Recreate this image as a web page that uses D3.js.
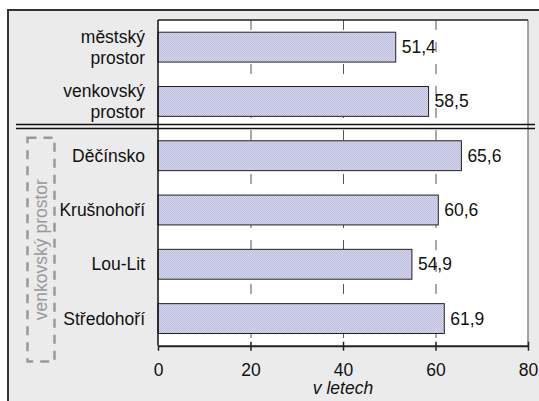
<!DOCTYPE html>
<html><head><meta charset="utf-8">
<script src="https://cdn.jsdelivr.net/npm/d3@7/dist/d3.min.js"></script>
<style>
html,body{margin:0;padding:0;background:#fff;}
svg{display:block;font-family:"Liberation Sans",Arial,sans-serif;}
</style></head>
<body>
<svg id="chart" width="539" height="401"></svg>
<script>
const categories = [["městský","prostor"],["venkovský","prostor"],["Děčínsko"],["Krušnohoří"],["Lou-Lit"],["Středohoří"]];
const values = [51.4, 58.5, 65.6, 60.6, 54.9, 61.9];
const valueLabels = ["51,4","58,5","65,6","60,6","54,9","61,9"];
const xTicks = [0, 20, 40, 60, 80];
const xTitle = "v letech";
const groupLabel = "venkovský prostor";

const FS = 17.5;
const svg = d3.select("#chart");
const W = 539, H = 401;
const m = {left:158, right:528, top:20, bottom:345.7};

// outer frame
svg.append("rect").attr("x",8).attr("y",10).attr("width",W).attr("height",H)
  .attr("fill","#ebebeb").attr("stroke","#333").attr("stroke-width",2);

const defs = svg.append("defs");
const pat = defs.append("pattern").attr("id","hatch").attr("patternUnits","userSpaceOnUse")
  .attr("width",2).attr("height",2);
pat.append("rect").attr("width",2).attr("height",2).attr("fill","#d6d6ee");
pat.append("rect").attr("width",1).attr("height",1).attr("fill","#bcbcdc");
pat.append("rect").attr("x",1).attr("y",1).attr("width",1).attr("height",1).attr("fill","#bcbcdc");

const x = d3.scaleLinear().domain([0,80]).range([m.left, m.right]);
const y = d3.scaleBand().domain(d3.range(categories.length)).range([m.top, m.bottom]).paddingInner(0.45).paddingOuter(0.225);

// plot background
svg.append("rect").attr("x",m.left).attr("y",m.top).attr("width",m.right-m.left).attr("height",m.bottom-m.top)
  .attr("fill","#fff");

// gridlines
svg.append("g").selectAll("line").data(xTicks.filter(d=>d>0 && d<80)).join("line")
  .attr("x1",d=>x(d)+0.5).attr("x2",d=>x(d)+0.5).attr("y1",m.top).attr("y2",m.bottom)
  .attr("stroke","#555").attr("stroke-width",1).attr("stroke-dasharray","10,12");

// right border
svg.append("line").attr("x1",m.right).attr("x2",m.right).attr("y1",m.top).attr("y2",m.bottom)
  .attr("stroke","#888").attr("stroke-width",1.5);
// top border
svg.append("line").attr("x1",m.left).attr("x2",m.right).attr("y1",m.top).attr("y2",m.top)
  .attr("stroke","#222").attr("stroke-width",1.5);

// bars
svg.append("g").selectAll("rect").data(values).join("rect")
  .attr("x",x(0)).attr("y",(d,i)=>y(i)).attr("width",d=>x(d)-x(0)).attr("height",y.bandwidth())
  .attr("fill","url(#hatch)").attr("stroke","#222").attr("stroke-width",1);

// value labels
svg.append("g").selectAll("text").data(values).join("text")
  .attr("x",d=>x(d)+6).attr("y",(d,i)=>y(i)+y.bandwidth()/2+6)
  .attr("font-size",FS).attr("fill","#111").text((d,i)=>valueLabels[i]);

// category labels
const cl = svg.append("g").selectAll("text").data(categories).join("text")
  .attr("text-anchor","end").attr("font-size",FS).attr("fill","#111")
  .attr("y",(d,i)=>y(i)+y.bandwidth()/2);
cl.each(function(lines){
  const t = d3.select(this);
  const cy = +t.attr("y");
  lines.forEach((ln,k)=>{
    const off = lines.length===1 ? 6 : (k===0 ? -4.5 : 16.5);
    t.append("tspan").attr("x",m.left-13).attr("y",cy+off).text(ln);
  });
});

// left axis line
svg.append("line").attr("x1",m.left).attr("x2",m.left).attr("y1",m.top).attr("y2",m.bottom)
  .attr("stroke","#111").attr("stroke-width",1.5);

// x axis
const ax = svg.append("g").attr("transform",`translate(0,${m.bottom})`)
  .call(d3.axisBottom(x).tickValues(xTicks).tickSize(5).tickSizeOuter(0).tickPadding(12));
ax.select(".domain").attr("stroke","#222").attr("stroke-width",2);
ax.selectAll(".tick line").attr("stroke","#222").attr("stroke-width",1.5).attr("y1",-4).attr("y2",5);
ax.selectAll(".tick text").attr("font-size",FS).attr("fill","#111")
  .attr("font-family","'Liberation Sans',Arial,sans-serif").attr("dy","0.35em").attr("y",24);
ax.selectAll(".tick").filter(d=>d===0).select("line").attr("y1",0);

// x title
svg.append("text").attr("x",x(40)).attr("y",394).attr("text-anchor","middle")
  .attr("font-size",FS).attr("font-style","italic").attr("fill","#111").text(xTitle);

// double separator line
const b = y(2) - y.step()*y.paddingInner()/2;
[b-4, b].forEach(v=>{
  svg.append("line").attr("x1",16).attr("x2",535).attr("y1",v).attr("y2",v)
    .attr("stroke","#111").attr("stroke-width",1.5);
});

// group box
const gy0 = y(2) - 3, gy1 = y(5) + y.bandwidth() + 28;
svg.append("rect").attr("x",27.5).attr("y",gy0).attr("width",27).attr("height",gy1-gy0)
  .attr("fill","none").attr("stroke","#999").attr("stroke-width",2.5).attr("stroke-dasharray","9,7");
svg.append("text").attr("transform",`translate(47,${(gy0+gy1)/2}) rotate(-90)`)
  .attr("text-anchor","middle").attr("font-size",FS).attr("fill","#999").text(groupLabel);
</script>
</body></html>
